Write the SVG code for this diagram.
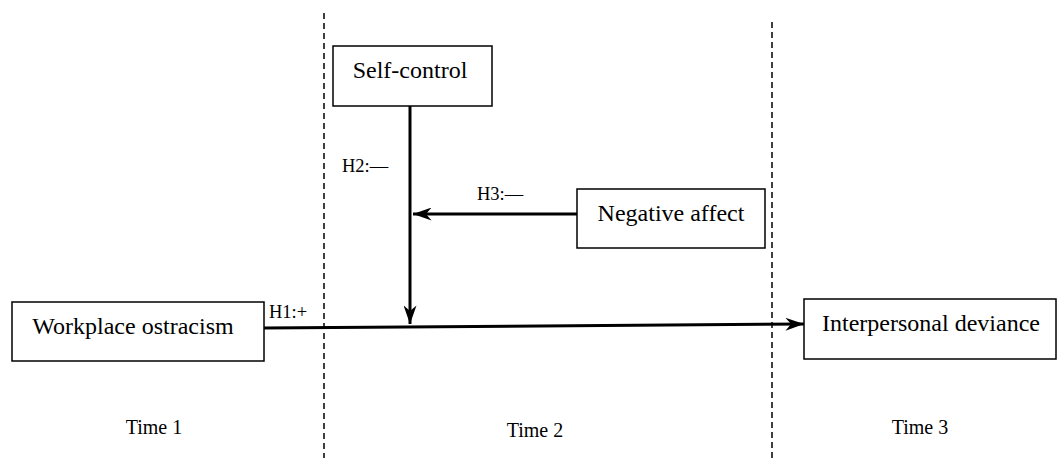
<svg xmlns="http://www.w3.org/2000/svg" width="1058" height="458" viewBox="0 0 1058 458">
<style>
text{font-family:"Liberation Serif","Times New Roman",serif;fill:#000}
.box{fill:#fff;stroke:#000;stroke-width:1.5}
.lbl{font-size:24px}
.h{font-size:18.5px}
.t{font-size:20px}
.dash{stroke:#000;stroke-width:1.5;stroke-dasharray:6 4;fill:none}
.arr{stroke:#000;stroke-width:3;fill:none}
</style>
<defs>
<marker id="ah" viewBox="0 0 20 14" refX="20" refY="7" markerWidth="20" markerHeight="13" markerUnits="userSpaceOnUse" orient="auto">
<path d="M0,0 L20,7 L0,14 L6,7 Z" fill="#000"/>
</marker>
</defs>
<g id="dividers">
<line class="dash" x1="324" y1="13" x2="324" y2="458"/>
<line class="dash" x1="772" y1="22" x2="772" y2="458"/>
</g>
<g id="connectors">
<line class="arr" x1="264" y1="328" x2="804" y2="324" marker-end="url(#ah)"/>
<line class="arr" x1="410" y1="106" x2="410" y2="324" marker-end="url(#ah)"/>
<line class="arr" x1="577" y1="214" x2="413" y2="214" marker-end="url(#ah)"/>
<text class="h" x="269" y="318">H1:+</text>
<text class="h" x="342" y="172">H2:—</text>
<text class="h" x="477" y="200">H3:—</text>
</g>
<g id="self-control">
<rect class="box" x="333" y="46" width="159" height="60"/>
<text class="lbl" x="410" y="78" text-anchor="middle">Self-control</text>
</g>
<g id="negative-affect">
<rect class="box" x="577" y="189" width="188" height="59"/>
<text class="lbl" x="671" y="221" text-anchor="middle">Negative affect</text>
</g>
<g id="workplace-ostracism">
<rect class="box" x="12" y="302" width="252" height="59"/>
<text class="lbl" x="133" y="334" text-anchor="middle">Workplace ostracism</text>
</g>
<g id="interpersonal-deviance">
<rect class="box" x="804" y="299" width="252" height="60"/>
<text class="lbl" x="931" y="331" text-anchor="middle">Interpersonal deviance</text>
</g>
<g id="time-labels">
<text class="t" x="154" y="434" text-anchor="middle">Time 1</text>
<text class="t" x="535" y="437" text-anchor="middle">Time 2</text>
<text class="t" x="920" y="434" text-anchor="middle">Time 3</text>
</g>
</svg>
